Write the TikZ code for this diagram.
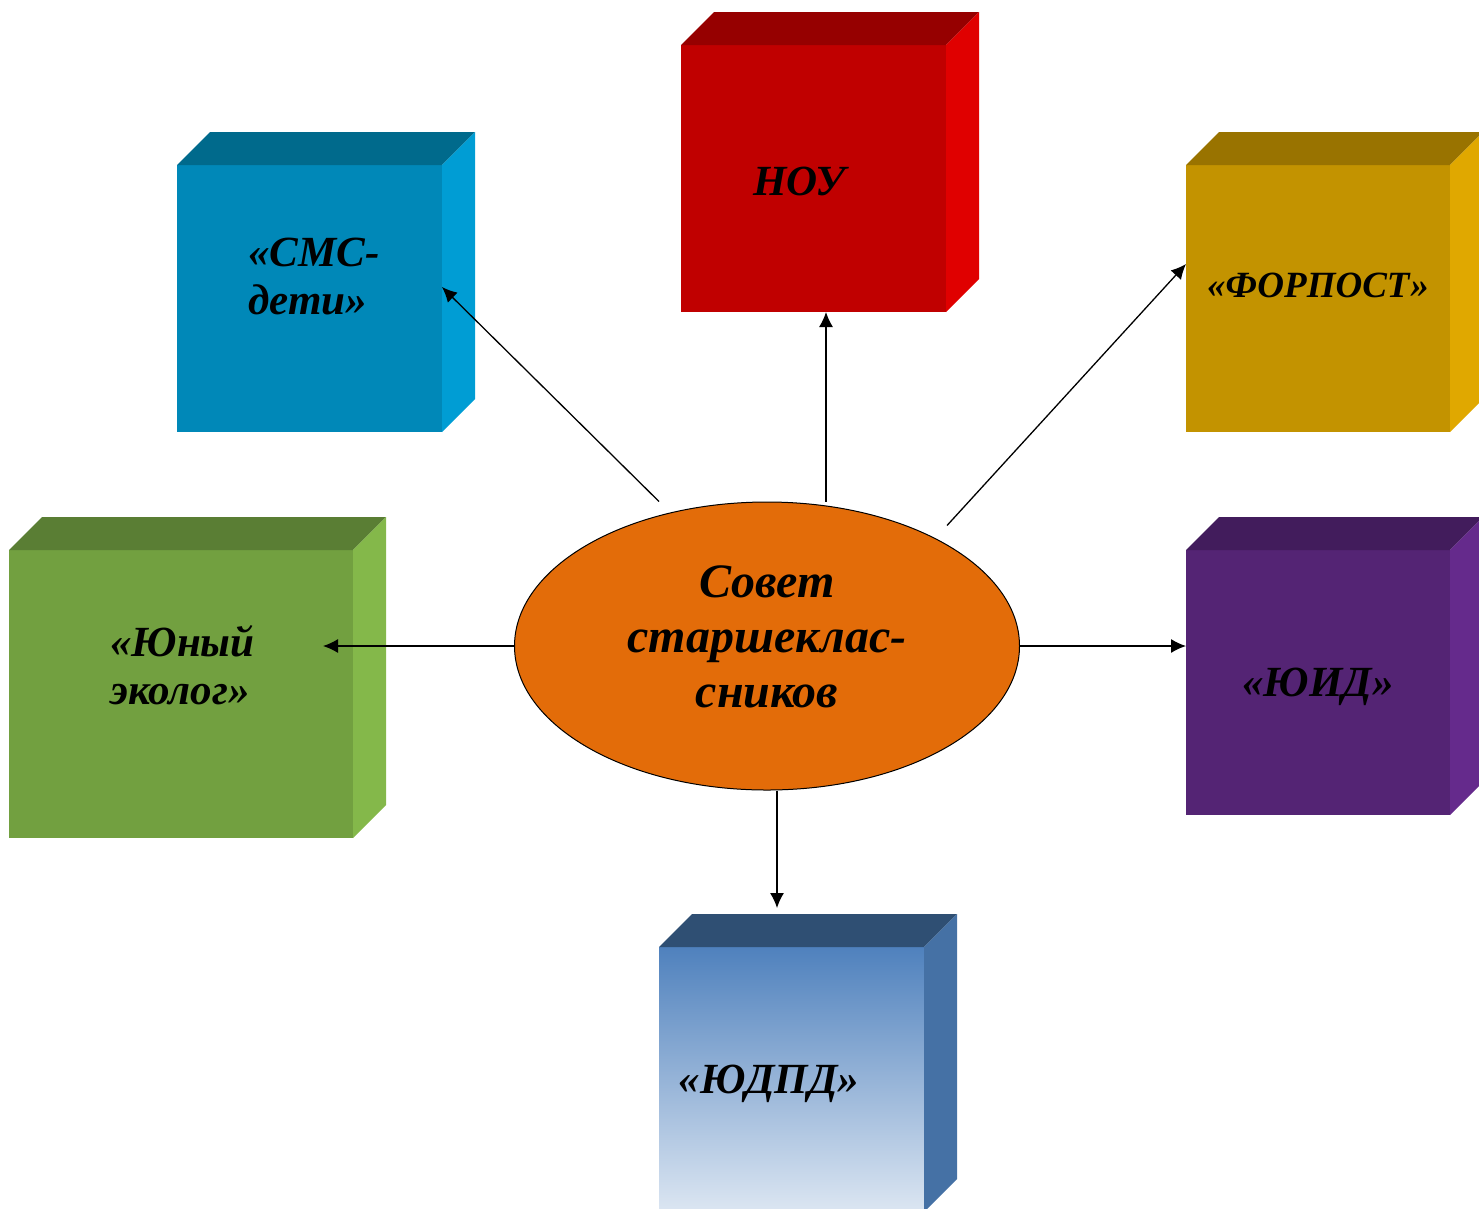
\documentclass[tikz,border=0pt]{standalone}
\usepackage{fontspec}
\setmainfont{Liberation Serif}
\usetikzlibrary{shapes,arrows.meta}

\definecolor{smsFront}{RGB}{0,136,184}
\definecolor{smsTop}{RGB}{0,106,140}
\definecolor{smsSide}{RGB}{0,157,212}
\definecolor{noyFront}{RGB}{192,0,0}
\definecolor{noyTop}{RGB}{150,0,0}
\definecolor{noySide}{RGB}{224,0,0}
\definecolor{forpostFront}{RGB}{195,147,0}
\definecolor{forpostTop}{RGB}{153,115,0}
\definecolor{forpostSide}{RGB}{224,168,0}
\definecolor{ecoFront}{RGB}{114,160,64}
\definecolor{ecoTop}{RGB}{90,126,52}
\definecolor{ecoSide}{RGB}{132,184,74}
\definecolor{yidFront}{RGB}{84,36,116}
\definecolor{yidTop}{RGB}{66,28,92}
\definecolor{yidSide}{RGB}{101,42,140}
\definecolor{udpdHigh}{RGB}{79,129,189}
\definecolor{udpdMid}{RGB}{160,182,216}
\definecolor{udpdLow}{RGB}{220,230,242}
\definecolor{udpdTop}{RGB}{47,79,115}
\definecolor{udpdSide}{RGB}{69,113,165}
\definecolor{hubFill}{RGB}{227,108,9}

\tikzstyle{face} = [rectangle, inner sep=0pt, outer sep=0pt]
\tikzstyle{caption} = [inner sep=0pt, align=left,
    font=\fontsize{43}{48}\selectfont\bfseries\itshape]
\tikzstyle{hub} = [ellipse, draw, fill=hubFill, line width=1pt, inner sep=0pt,
    minimum width=505pt, minimum height=288pt]
\tikzstyle{hubtext} = [inner sep=0pt, align=center,
    font=\fontsize{48}{55}\selectfont\bfseries\itshape]
\tikzstyle{arrow} = [draw, line width=1.3pt, -{Latex[length=15pt,width=14pt]}]

% top and right faces of a box
\newcommand{\cubesides}[3]{
    \fill [#2] (#1.north west) -- ++(33pt,33pt)
        -- ([shift={(33pt,33pt)}] #1.north east) -- (#1.north east) -- cycle;
    \fill [#3] (#1.north east) -- ++(33pt,33pt)
        -- ([shift={(33pt,33pt)}] #1.south east) -- (#1.south east) -- cycle;
}

\begin{document}
\begin{tikzpicture}[x=1pt, y=-1pt]

    \useasboundingbox (0,0) rectangle (1479,1208);

    % Place boxes
    \node [face, fill=smsFront, minimum width=265pt, minimum height=267pt] (sms) at (309.5,298.5) {};
    \node [face, fill=noyFront, minimum width=265pt, minimum height=267pt] (noy) at (813.5,178.5) {};
    \node [face, fill=forpostFront, minimum width=264pt, minimum height=267pt] (forpost) at (1318,298.5) {};
    \node [face, fill=ecoFront, minimum width=344pt, minimum height=288pt] (eco) at (181,694) {};
    \node [face, fill=yidFront, minimum width=264pt, minimum height=265pt] (yid) at (1318,682.5) {};
    \node [face, top color=udpdHigh, middle color=udpdMid, bottom color=udpdLow,
        minimum width=265pt, minimum height=265pt] (udpd) at (791.5,1079.5) {};

    \cubesides{sms}{smsTop}{smsSide}
    \cubesides{noy}{noyTop}{noySide}
    \cubesides{forpost}{forpostTop}{forpostSide}
    \cubesides{eco}{ecoTop}{ecoSide}
    \cubesides{yid}{yidTop}{yidSide}
    \cubesides{udpd}{udpdTop}{udpdSide}

    % Place captions
    \node [caption, anchor=west] (smsText) at (248,277) {«СМС-\\дети»};
    \node [caption] (noyText) at (799,181) {НОУ};
    \node [caption, font=\fontsize{37}{44}\selectfont\bfseries\itshape] (forpostText) at (1318,285) {«ФОРПОСТ»};
    \node [caption, anchor=west] (ecoText) at (110,665) {«Юный\\эколог»};
    \node [caption] (yidText) at (1318,687) {«ЮИД»};
    \node [caption] (udpdText) at (769,1084) {«ЮДПД»};

    \node [hub] (council) at (767,646) {};
    \node [hubtext] (councilText) at (767,637) {Совет\\старшеклас-\\сников};

    % Draw edges
    \path [arrow] ([xshift=-108pt] council.north) -- ([yshift=11.5pt] sms.east);
    \path [arrow] ([xshift=59pt] council.north) -- ([xshift=12.5pt] noy.south);
    \path [arrow] ([shift={(180pt,-24pt)}] council.north) -- ([yshift=34.5pt] forpost.west);
    \path [arrow] (council.west) -- ([xshift=-30pt] eco.east |- council.west);
    \path [arrow] (council.east) -- (council.east -| yid.west);
    \path [arrow] ([xshift=10pt] council.south) -- ([shift={(-14.5pt,39pt)}] udpd.north);

\end{tikzpicture}
\end{document}
